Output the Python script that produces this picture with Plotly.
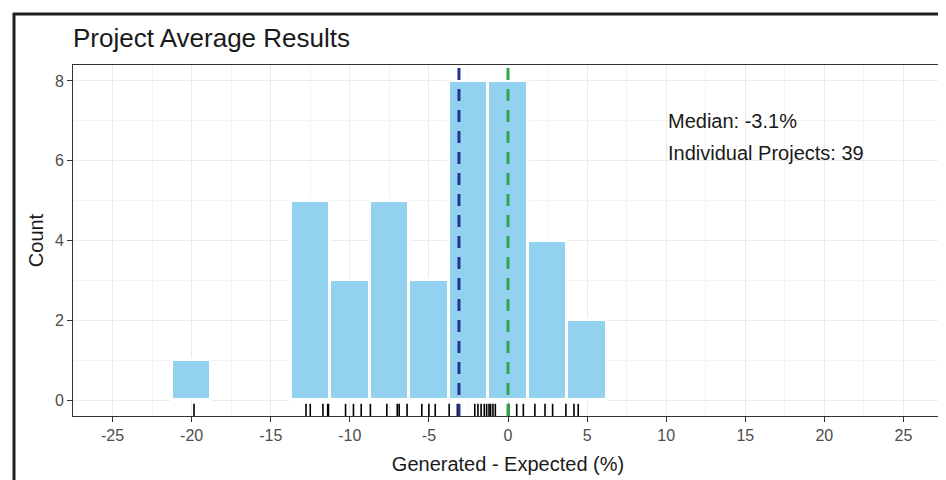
import numpy as np
import plotly.graph_objects as go

# ---- data ----
bin_centers = [-20, -12.5, -10, -7.5, -5, -2.5, 0, 2.5, 5]
bin_counts = [1, 5, 3, 5, 3, 8, 8, 4, 2]
bin_width = 2.5
project_values = [-19.85,
                  -12.77, -12.5, -11.7, -11.4, -11.35,
                  -10.27, -9.77, -9.28,
                  -8.7, -7.66, -7.0, -6.88, -6.38,
                  -5.45, -5.0, -4.6,
                  -3.72, -3.2, -3.1, -2.1, -1.9, -1.7, -1.5, -1.35,
                  -1.2, -1.1, -0.95, -0.8, 0.0, 0.05, 0.55, 0.97,
                  1.7, 2.34, 2.82, 3.66,
                  4.17, 4.44]
reference_value = 0
x_ticks = [-25, -20, -15, -10, -5, 0, 5, 10, 15, 20, 25]
x_tick_labels = ["-25", "-20", "-15", "-10", "-5", "0", "5", "10", "15", "20", "25"]
y_ticks = [0, 2, 4, 6, 8]
y_tick_labels = ["0", "2", "4", "6", "8"]

median_value = float(np.median(project_values))
n_projects = len(project_values)

# ---- layout geometry (page has an 8px body margin) ----
OFF = 8
W, H = 946 - OFF, 480 - OFF
L, R_PX, T, B_PX = 73 - OFF, 943 - OFF, 65 - OFF, 416 - OFF
FONT = "Liberation Sans, Arial, sans-serif"

def px_to_paper_x(px):
    return (px - OFF - L) / (R_PX - L)

def py_to_paper_y(py):
    return (B_PX - (py - OFF)) / (B_PX - T)

fig = go.Figure()

fig.add_trace(go.Bar(
    x=bin_centers, y=bin_counts, width=bin_width,
    marker=dict(color="#92D1EF", line=dict(color="white", width=3)),
    showlegend=False, hoverinfo="x+y",
))

fig.add_trace(go.Scatter(
    x=project_values, y=[-0.27] * len(project_values),
    mode="markers",
    marker=dict(symbol="line-ns-open", size=10, color="black",
                line=dict(color="black", width=1.6)),
    showlegend=False, hoverinfo="x",
))

# dashed reference lines
fig.add_shape(type="line", xref="x", yref="paper", x0=median_value, x1=median_value,
              y0=0, y1=1, line=dict(color="#22348E", width=3, dash="12px,9px"))
fig.add_shape(type="line", xref="x", yref="paper", x0=reference_value, x1=reference_value,
              y0=0, y1=1, line=dict(color="#31A64E", width=3, dash="12px,9px"))

# outer frame (left and top visible)
frame_col = "#231F20"
fig.add_shape(type="line", xref="paper", yref="paper",
              x0=px_to_paper_x(14), x1=px_to_paper_x(14),
              y0=py_to_paper_y(13), y1=py_to_paper_y(520),
              line=dict(color=frame_col, width=3))
fig.add_shape(type="line", xref="paper", yref="paper",
              x0=px_to_paper_x(13), x1=px_to_paper_x(1000),
              y0=py_to_paper_y(14), y1=py_to_paper_y(14),
              line=dict(color=frame_col, width=3))

fig.add_annotation(x=10, y=7, xref="x", yref="y", xanchor="left", yanchor="middle",
                   text=f"Median: {median_value:.1f}%", showarrow=False,
                   font=dict(family=FONT, size=20, color="#1a1a1a"))
fig.add_annotation(x=10, y=6.2, xref="x", yref="y", xanchor="left", yanchor="middle",
                   text=f"Individual Projects: {n_projects}", showarrow=False,
                   font=dict(family=FONT, size=20, color="#1a1a1a"))

axis_common = dict(
    showline=True, linecolor="#333333", linewidth=1, mirror=True,
    ticks="outside", ticklen=5, tickcolor="#333333", tickwidth=1,
    tickfont=dict(family=FONT, size=16, color="#4d4d4d"),
    showgrid=True, gridcolor="#EBEBEB", gridwidth=1, zeroline=False,
)

fig.update_layout(
    width=W, height=H,
    margin=dict(l=L, r=W - R_PX, t=T, b=H - B_PX, autoexpand=False),
    paper_bgcolor="white", plot_bgcolor="white",
    bargap=0,
    title=dict(text="Project Average Results", x=L / W, xanchor="left",
               xref="container", yref="container", y=1 - (38 - OFF) / H, yanchor="middle",
               font=dict(family=FONT, size=26, color="#1a1a1a")),
    xaxis=dict(range=[-27.5, 27.5], tickvals=x_ticks, ticktext=x_tick_labels,
               title=dict(text="Generated - Expected (%)", standoff=13,
                          font=dict(family=FONT, size=20, color="#1a1a1a")),
               minor=dict(tickvals=[v + 2.5 for v in x_ticks[:-1]],
                          showgrid=True, gridcolor="#F4F4F4", gridwidth=1, ticks=""),
               **axis_common),
    yaxis=dict(range=[-0.4, 8.4], tickvals=y_ticks, ticktext=y_tick_labels,
               title=dict(text="Count", standoff=5,
                          font=dict(family=FONT, size=20, color="#1a1a1a")),
               minor=dict(tickvals=[1, 3, 5, 7], showgrid=True, gridcolor="#F4F4F4",
                          gridwidth=1, ticks=""),
               **axis_common),
)

fig.write_html("out.html")
